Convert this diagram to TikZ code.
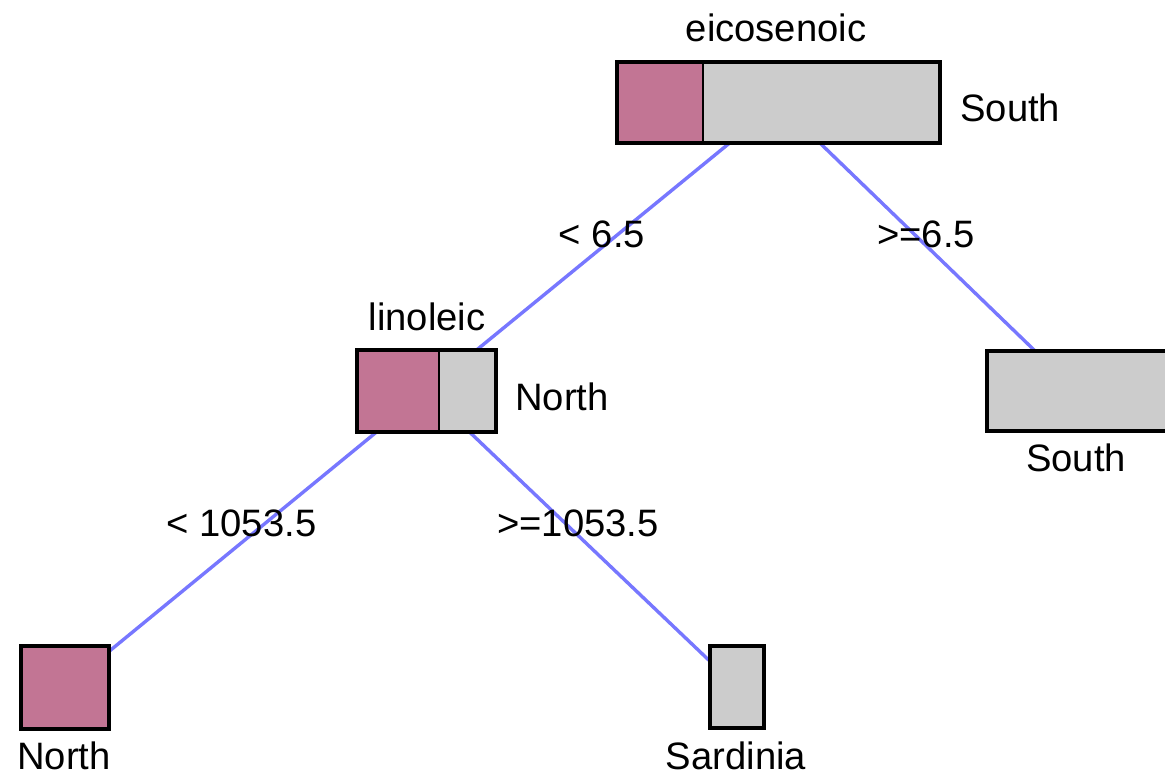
\documentclass[tikz,border=0pt]{standalone}
\usepackage{fontspec}
\setmainfont{Liberation Sans}
\definecolor{nodepink}{HTML}{C27594}
\definecolor{nodegray}{HTML}{CCCCCC}
\definecolor{edgeblue}{HTML}{7777FF}
\begin{document}
\begin{tikzpicture}[x=0.5pt,y=-0.5pt,
  box/.style={draw=black,line width=2.1pt},
  divider/.style={draw=black,line width=1.1pt},
  edge/.style={draw=edgeblue,line width=1.7pt},
  lbl/.style={font=\fontsize{19.1}{22}\selectfont,inner sep=0pt,anchor=base},
  lblw/.style={lbl,anchor=base west}]
\useasboundingbox (0,0) rectangle (1165,775);
% node centres
\coordinate (root) at (778.5,103);
\coordinate (lin) at (426.5,391);
\coordinate (south) at (1076.5,391);
\coordinate (north) at (65,687.5);
\coordinate (sard) at (737,687);
% connectors
\draw[edge] (root) -- (lin);
\draw[edge] (root) -- (south);
\draw[edge] (lin) -- (north);
\draw[edge] (lin) -- (sard);
% root box
\fill[nodepink] (617,62) rectangle (703,143);
\fill[nodegray] (703,62) rectangle (940,143);
\draw[divider] (703,62) -- (703,143);
\draw[box] (617,62) rectangle (940,143);
% linoleic box
\fill[nodepink] (357,350) rectangle (439,432);
\fill[nodegray] (439,350) rectangle (496,432);
\draw[divider] (439,350) -- (439,432);
\draw[box] (357,350) rectangle (496,432);
% leaves
\draw[box,fill=nodegray] (987,351) rectangle (1172,431);
\draw[box,fill=nodepink] (21,646) rectangle (109,729);
\draw[box,fill=nodegray] (710,646) rectangle (764,728);
% labels
\node[lbl] (t1) at (776,42) {eicosenoic};
\node[lblw] (t2) at (960,122) {South};
\node[lbl] (t3) at (427,330) {linoleic};
\node[lblw] (t4) at (515,410) {North};
\node[lbl] (t5) at (1076,471) {South};
\node[lbl] (t6) at (64,769) {North};
\node[lbl] (t7) at (736,769) {Sardinia};
\node[lbl] (e1) at (602,247) {< 6.5};
\node[lbl] (e2) at (926,247) {>=6.5};
\node[lbl] (e3) at (241.5,536) {< 1053.5};
\node[lbl] (e4) at (578,536) {>=1053.5};
\end{tikzpicture}
\end{document}
